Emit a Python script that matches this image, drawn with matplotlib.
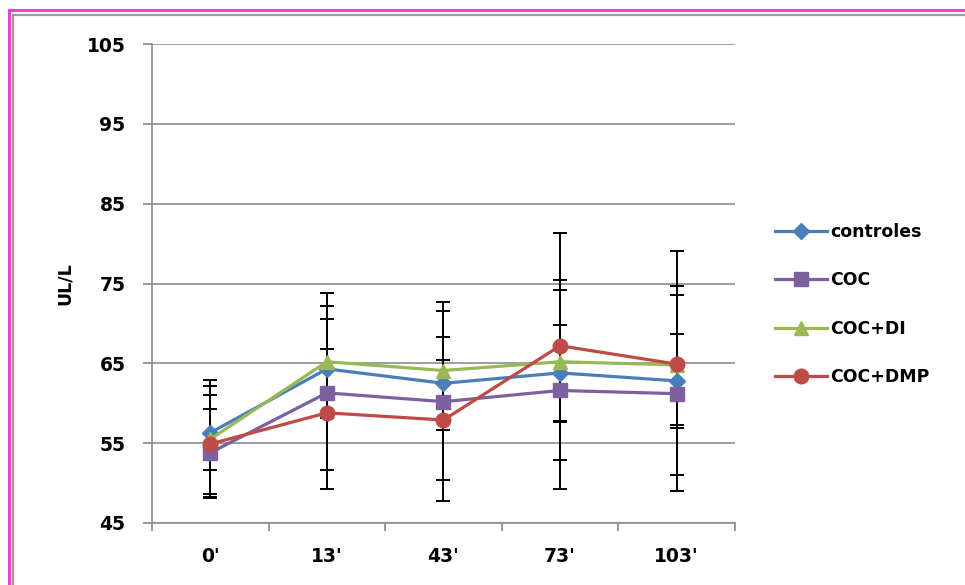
import numpy as np
import matplotlib
matplotlib.use("Agg")
import matplotlib.pyplot as plt
from matplotlib.lines import Line2D

# ---- data ----
categories = ["0'", "13'", "43'", "73'", "103'"]
series_names = ["controles", "COC", "COC+DI", "COC+DMP"]

controles = [56.3, 64.3, 62.5, 63.8, 62.8]
controles_lo = [4.7, 6.2, 5.8, 6.0, 5.9]
controles_hi = [5.9, 6.2, 5.8, 6.0, 5.9]

coc = [53.8, 61.3, 60.2, 61.6, 61.2]
coc_lo = [5.5, 12.0, 12.5, 12.3, 12.2]
coc_hi = [5.5, 12.5, 12.5, 12.6, 12.4]

coc_di = [55.5, 65.2, 64.1, 65.2, 64.8]
coc_di_lo = [7.4, 7.0, 7.4, 7.5, 7.5]
coc_di_hi = [7.4, 7.0, 7.4, 10.2, 9.9]

coc_dmp = [54.9, 58.8, 57.9, 67.2, 64.9]
coc_dmp_lo = [6.3, 7.2, 7.5, 14.3, 13.9]
coc_dmp_hi = [6.1, 8.0, 7.5, 14.1, 14.2]

yticks = [45, 55, 65, 75, 85, 95, 105]
ylabel = "UL/L"

colors = ["#4A7EBB", "#7D60A0", "#98B954", "#BE4B48"]
markers = ["D", "s", "^", "o"]
msizes = [8, 10.5, 10.5, 10.5]

# ---- figure ----
fig = plt.figure(figsize=(9.65, 5.85), dpi=100)
fig.patch.set_facecolor("white")
ax = fig.add_axes([152/965, 1-523/585, (735-152)/965, (523-44)/585])

x = np.arange(len(categories))
data = [(controles, controles_lo, controles_hi),
        (coc, coc_lo, coc_hi),
        (coc_di, coc_di_lo, coc_di_hi),
        (coc_dmp, coc_dmp_lo, coc_dmp_hi)]

handles = []
for (vals, lo, hi) in data:
    ax.errorbar(x, vals, yerr=[lo, hi], fmt="none", ecolor="black",
                elinewidth=1.4, capsize=5.2, capthick=1.4, zorder=2)
for (vals, lo, hi), name, c, m, ms in zip(data, series_names, colors, markers, msizes):
    h, = ax.plot(x, vals, color=c, marker=m, markersize=ms, linewidth=2.3,
                 label=name, zorder=3, markeredgecolor=c)
    handles.append(h)

ax.set_xlim(-0.5, len(categories) - 0.5)
ax.set_ylim(45, 105)
ax.set_yticks(yticks)
ax.set_yticklabels([str(t) for t in yticks], fontsize=13.5, fontweight="bold")
ax.set_xticks(x)
ax.set_xticklabels(categories, fontsize=13.5, fontweight="bold")
ax.set_xticks(np.arange(-0.5, len(categories)), minor=True)
ax.tick_params(axis="x", which="major", length=0, pad=17)
ax.tick_params(axis="x", which="minor", length=6, width=1.2, color="#888888", direction="out")
ax.tick_params(axis="y", which="major", length=6.5, width=1.2, color="#888888", direction="out", pad=12.5)

ax.grid(axis="y", color="#8c8c8c", linewidth=1.2, zorder=0)
ax.set_axisbelow(True)
for s in ["top", "right"]:
    ax.spines[s].set_visible(False)
for s in ["left", "bottom"]:
    ax.spines[s].set_color("#8c8c8c")
    ax.spines[s].set_linewidth(1.2)

ax.set_ylabel(ylabel, fontsize=12.5, fontweight="bold", labelpad=9)

leg = fig.legend(handles=handles, labels=series_names, loc="upper left",
                 bbox_to_anchor=(768/965, 1-216/585), frameon=False,
                 prop={"size": 12.5, "weight": "bold"}, labelspacing=1.75,
                 handlelength=3.0, handletextpad=0.2, borderaxespad=0)

# decorative frame (pink outer, grey inner)
fig.add_artist(Line2D([9/965, 1.0], [1-10/585, 1-10/585], color="#F040D0", linewidth=2.2, transform=fig.transFigure))
fig.add_artist(Line2D([9/965, 9/965], [0.0, 1-10/585], color="#F040D0", linewidth=2.2, transform=fig.transFigure))
fig.add_artist(Line2D([13/965, 1.0], [1-15/585, 1-15/585], color="#999999", linewidth=1.6, transform=fig.transFigure))
fig.add_artist(Line2D([13/965, 13/965], [0.0, 1-15/585], color="#999999", linewidth=1.6, transform=fig.transFigure))

fig.savefig("out.png", dpi=100)
